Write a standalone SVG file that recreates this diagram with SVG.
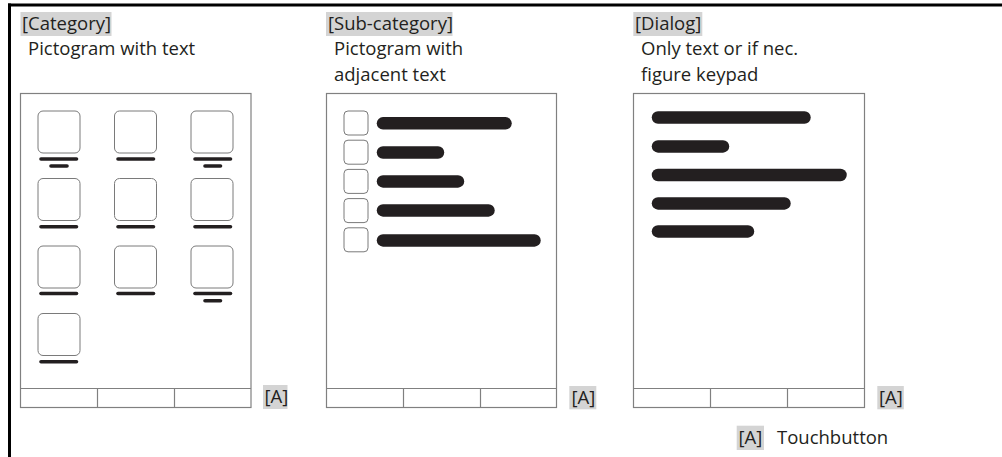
<svg xmlns="http://www.w3.org/2000/svg" width="1002" height="457" viewBox="0 0 1002 457">
<style>
text{font-family:"Open Sans","Noto Sans","Liberation Sans",sans-serif;font-size:18.5px;fill:#231f20}
.hl{fill:#d4d4d4}
.box{fill:#fff;stroke:#808080;stroke-width:1.2}
.div{stroke:#808080;stroke-width:1.2}
.ic{fill:#fff;stroke:#7a7a7a;stroke-width:1}
.tb{stroke:#231f20;stroke-width:3.6;stroke-linecap:round}
.bb{stroke:#231f20;stroke-width:12.5;stroke-linecap:round}
</style>
<rect width="1002" height="457" fill="#fff"/>
<g id="frame">
<rect x="8" y="3.5" width="994" height="3" fill="#000"/>
<rect x="8" y="3.5" width="3" height="453.5" fill="#000"/>
</g>

<g id="category">
<rect class="hl" x="20.5" y="12" width="91" height="24"/>
<text x="22" y="30">[Category]</text>
<text x="28" y="55">Pictogram with text</text>
<rect class="box" x="20.5" y="93.5" width="230.5" height="314"/>
<line class="div" x1="20.5" y1="388.5" x2="251" y2="388.5"/>
<line class="div" x1="97.5" y1="388.5" x2="97.5" y2="407.5"/>
<line class="div" x1="174.5" y1="388.5" x2="174.5" y2="407.5"/>
<g>
<rect class="ic" x="38" y="111" width="42" height="42" rx="5"/>
<rect class="ic" x="114.5" y="111" width="42" height="42" rx="5"/>
<rect class="ic" x="191" y="111" width="42" height="42" rx="5"/>
<rect class="ic" x="38" y="178.5" width="42" height="42" rx="5"/>
<rect class="ic" x="114.5" y="178.5" width="42" height="42" rx="5"/>
<rect class="ic" x="191" y="178.5" width="42" height="42" rx="5"/>
<rect class="ic" x="38" y="246" width="42" height="42" rx="5"/>
<rect class="ic" x="114.5" y="246" width="42" height="42" rx="5"/>
<rect class="ic" x="191" y="246" width="42" height="42" rx="5"/>
<rect class="ic" x="38" y="313.5" width="42" height="42" rx="5"/>
</g>
<g>
<line class="tb" x1="41" y1="159" x2="76.5" y2="159"/>
<line class="tb" x1="51" y1="166" x2="67" y2="166"/>
<line class="tb" x1="118" y1="159" x2="153.5" y2="159"/>
<line class="tb" x1="195" y1="159" x2="230.5" y2="159"/>
<line class="tb" x1="205" y1="166" x2="220.5" y2="166"/>
<line class="tb" x1="41" y1="226.7" x2="76.5" y2="226.7"/>
<line class="tb" x1="118" y1="226.7" x2="153.5" y2="226.7"/>
<line class="tb" x1="195" y1="226.7" x2="230.5" y2="226.7"/>
<line class="tb" x1="41" y1="293.5" x2="76.5" y2="293.5"/>
<line class="tb" x1="118" y1="293.5" x2="153.5" y2="293.5"/>
<line class="tb" x1="195" y1="293.5" x2="230.5" y2="293.5"/>
<line class="tb" x1="205" y1="300.7" x2="220.5" y2="300.7"/>
<line class="tb" x1="41" y1="361.7" x2="76.5" y2="361.7"/>
</g>
<rect class="hl" x="263" y="385" width="24.5" height="24"/>
<text x="264.5" y="403">[A]</text>
</g>

<g id="subcategory">
<rect class="hl" x="326" y="12" width="126.5" height="24"/>
<text x="328" y="30">[Sub-category]</text>
<text x="334" y="55">Pictogram with</text>
<text x="334" y="81">adjacent text</text>
<rect class="box" x="326.5" y="93.5" width="230" height="314"/>
<line class="div" x1="326.5" y1="388.5" x2="556.5" y2="388.5"/>
<line class="div" x1="403.5" y1="388.5" x2="403.5" y2="407.5"/>
<line class="div" x1="480.5" y1="388.5" x2="480.5" y2="407.5"/>
<rect class="ic" x="344" y="111" width="24" height="24" rx="4"/>
<rect class="ic" x="344" y="140.2" width="24" height="24" rx="4"/>
<rect class="ic" x="344" y="169.4" width="24" height="24" rx="4"/>
<rect class="ic" x="344" y="198.6" width="24" height="24" rx="4"/>
<rect class="ic" x="344" y="227.8" width="24" height="24" rx="4"/>
<line class="bb" x1="383" y1="123.3" x2="505.5" y2="123.3"/>
<line class="bb" x1="383" y1="152.5" x2="438" y2="152.5"/>
<line class="bb" x1="383" y1="181.4" x2="458" y2="181.4"/>
<line class="bb" x1="383" y1="210.4" x2="488.5" y2="210.4"/>
<line class="bb" x1="383" y1="240.4" x2="534.5" y2="240.4"/>
<rect class="hl" x="569.3" y="386" width="27" height="23.3"/>
<text x="571.5" y="403.5">[A]</text>
</g>

<g id="dialog">
<rect class="hl" x="633.3" y="12" width="69" height="24"/>
<text x="635" y="30">[Dialog]</text>
<text x="641" y="55">Only text or if nec.</text>
<text x="641" y="81">figure keypad</text>
<rect class="box" x="633.5" y="93.5" width="231" height="314"/>
<line class="div" x1="633.5" y1="388.5" x2="864.5" y2="388.5"/>
<line class="div" x1="710.5" y1="388.5" x2="710.5" y2="407.5"/>
<line class="div" x1="787.5" y1="388.5" x2="787.5" y2="407.5"/>
<line class="bb" x1="658" y1="117.5" x2="804.5" y2="117.5"/>
<line class="bb" x1="658" y1="146.4" x2="723" y2="146.4"/>
<line class="bb" x1="658" y1="175" x2="840.5" y2="175"/>
<line class="bb" x1="658" y1="203.4" x2="784.5" y2="203.4"/>
<line class="bb" x1="658" y1="231.4" x2="748" y2="231.4"/>
<rect class="hl" x="877.3" y="386" width="26.5" height="23.3"/>
<text x="879" y="403.5">[A]</text>
</g>

<g id="legend">
<rect class="hl" x="736.7" y="425.7" width="27.3" height="24.3"/>
<text x="738.5" y="444">[A]</text>
<text x="777" y="444">Touchbutton</text>
</g>
</svg>
